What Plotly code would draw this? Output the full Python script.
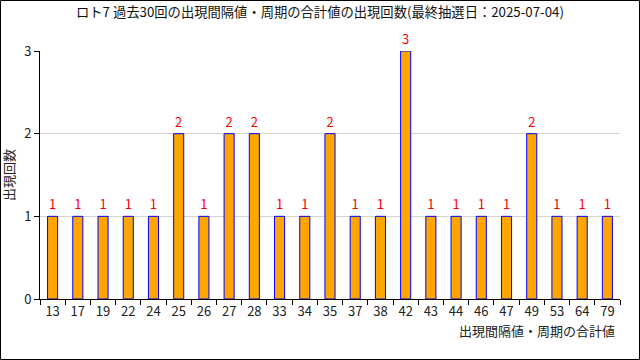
import plotly.graph_objects as go

categories = ["13","17","19","22","24","25","26","27","28","33","34","35","37","38","42","43","44","46","47","49","53","64","79"]
counts = [1,1,1,1,1,2,1,2,2,1,1,2,1,1,3,1,1,1,1,2,1,1,1]
title = "ロト7 過去30回の出現間隔値・周期の合計値の出現回数(最終抽選日：2025-07-04)"
x_title = "出現間隔値・周期の合計値"
y_title = "出現回数"

W, H = 640, 360
L, R, T, B = 40, 20, 51, 61
pw, ph = W - L - R, H - T - B
font = "Noto Sans CJK JP"

fig = go.Figure(go.Bar(
    x=categories, y=counts, width=0.4,
    marker=dict(color="#FFA500", line=dict(color="#0000FF", width=1)),
    text=[str(c) for c in counts], textposition="outside",
    textfont=dict(color="#FF0000", size=13, family=font),
    cliponaxis=False,
))
fig.update_layout(
    width=W, height=H, margin=dict(l=L, r=R, t=T, b=B),
    paper_bgcolor="white", plot_bgcolor="white",
    font=dict(family=font, size=13, color="#222"),
    title=dict(text=title, x=0.5, xanchor="center", y=1 - 12/H, yanchor="middle",
               font=dict(size=13.3, family=font, color="#111")),
    showlegend=False, bargap=0.6,
)
fig.update_xaxes(type="category", showline=True, linecolor="black", linewidth=1,
                 ticks="outside", tickson="boundaries", ticklen=5, tickcolor="black",
                 showgrid=False, tickfont=dict(size=13))
fig.update_yaxes(range=[0, 3], showline=True, linecolor="black", linewidth=1,
                 ticks="outside", ticklen=5, tickcolor="black", dtick=1,
                 showgrid=True, gridcolor="#D3D3D3", zeroline=False,
                 tickfont=dict(size=13))
fig.add_annotation(text=x_title, xref="paper", yref="paper", x=1 - 3/pw, y=-20/ph,
                   xanchor="right", yanchor="top", showarrow=False,
                   font=dict(size=13, family=font, color="#222"))
fig.add_annotation(text=y_title, xref="paper", yref="paper", x=-32/pw, y=(299-175)/ph,
                   xanchor="center", yanchor="middle", textangle=-90, showarrow=False,
                   font=dict(size=13, family=font, color="#222"))
fig.add_shape(type="rect", xref="paper", yref="paper",
              x0=-(L-0.5)/pw, x1=1 + (R-0.5)/pw, y0=-(B-0.5)/ph, y1=1 + (T-0.5)/ph,
              line=dict(color="black", width=1), fillcolor="rgba(0,0,0,0)", layer="above")
fig.write_html("out.html")
